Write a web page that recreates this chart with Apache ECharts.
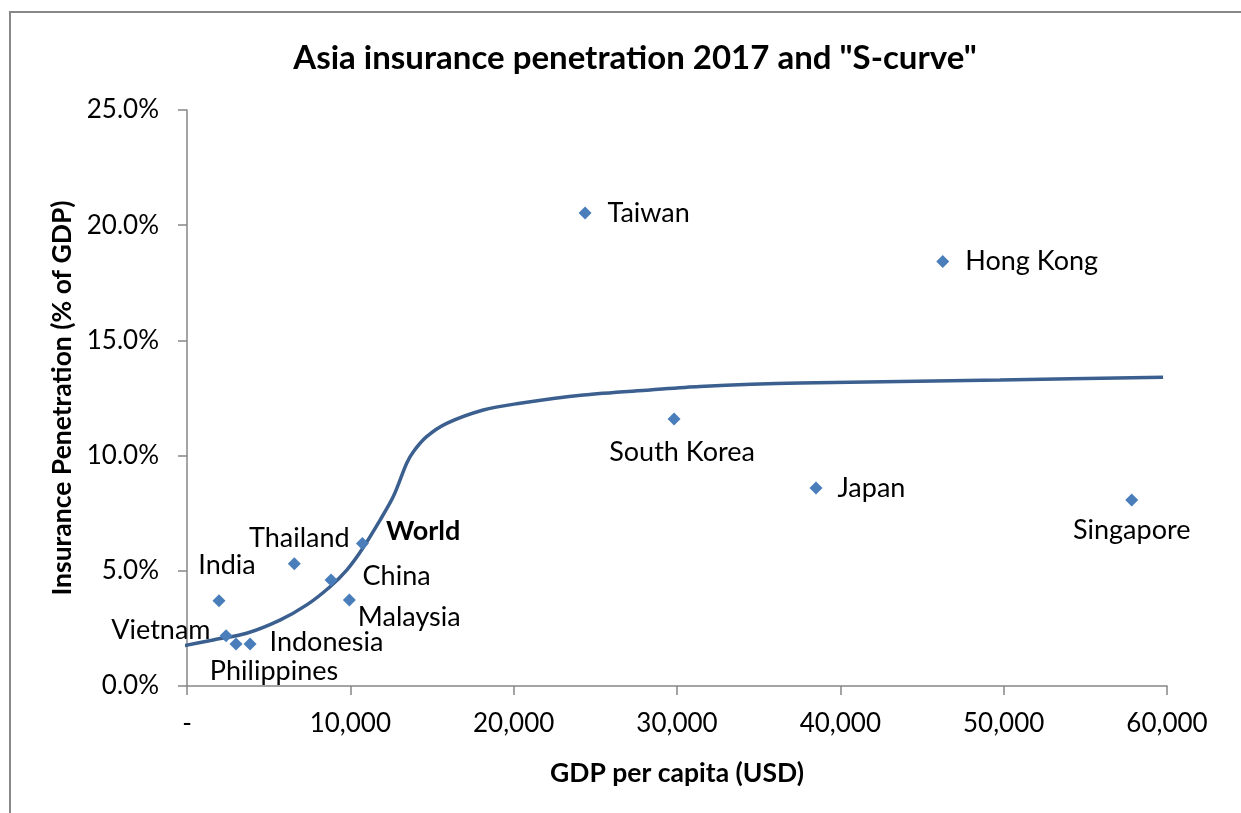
<!DOCTYPE html>
<html>
<head>
<meta charset="utf-8">
<script src="https://cdn.jsdelivr.net/npm/echarts@6/dist/echarts.min.js"></script>
<style>html,body{margin:0;padding:0;background:#fff;}#c{width:1241px;height:813px;}</style>
</head>
<body>
<div id="c"></div>
<script>
const countries = ['Taiwan','Hong Kong','South Korea','Japan','Singapore','World','Thailand','China','Malaysia','India','Vietnam','Philippines','Indonesia'];
const gdpPerCapita = [24370, 46270, 29820, 38510, 57840, 10740, 6570, 8820, 9940, 1960, 2390, 3000, 3860];
const penetration = [20.53, 18.42, 11.59, 8.59, 8.07, 6.18, 5.31, 4.60, 3.73, 3.70, 2.18, 1.82, 1.82];
const curveX = [-245, 1610, 3650, 5690, 7330, 8760, 9780, 10690, 11820, 12630, 13450, 13860, 14670, 15900, 18140, 20180, 24270, 28350, 31400, 37530, 49780, 59760];
const curveY = [1.74, 2.00, 2.29, 2.86, 3.52, 4.31, 5.03, 5.90, 7.20, 8.22, 9.67, 10.17, 10.82, 11.40, 11.98, 12.25, 12.63, 12.85, 13.00, 13.15, 13.28, 13.40];

const FONT = 'Lato, "Open Sans", sans-serif';
const labelStyle = {
  'Taiwan': {position: 'right', offset: [11, 0]},
  'Hong Kong': {position: 'right', offset: [11, 0]},
  'South Korea': {position: 'bottom', offset: [8, 8]},
  'Japan': {position: 'right', offset: [10, 0]},
  'Singapore': {position: 'bottom', offset: [0, 5]},
  'World': {position: 'right', offset: [12, -12], fontWeight: 'bold'},
  'Thailand': {position: 'top', offset: [5, 0]},
  'China': {position: 'right', offset: [20, -4]},
  'Malaysia': {position: 'right', offset: [-3, 17]},
  'India': {position: 'top', offset: [8, -10]},
  'Vietnam': {position: 'left', offset: [-4, -5]},
  'Indonesia': {position: 'right', offset: [8, -2]},
  'Philippines': {position: 'bottom', offset: [38, 2]}
};

const scatterData = countries.map((n, i) => ({
  name: n,
  value: [gdpPerCapita[i], penetration[i]],
  label: Object.assign({show: true, formatter: n, color: '#000', fontSize: 27, fontFamily: FONT}, labelStyle[n])
}));
const curveData = curveX.map((x, i) => [x, curveY[i]]);

const chart = echarts.init(document.getElementById('c'), null, {renderer: 'canvas'});
chart.setOption({
  animation: false,
  backgroundColor: '#fff',
  title: {
    text: 'Asia insurance penetration 2017 and "S-curve"',
    left: 630, top: 37, textAlign: 'center',
    textStyle: {fontFamily: FONT, fontWeight: 'bold', fontSize: 33, color: '#000'}
  },
  graphic: [{
    type: 'rect', shape: {x: 10, y: 12, width: 1300, height: 900},
    style: {fill: 'none', stroke: '#888', lineWidth: 2}, silent: true
  }],
  grid: {left: 187, top: 110, width: 980, height: 576},
  xAxis: {
    type: 'value', min: 0, max: 60000, interval: 10000,
    name: 'GDP per capita (USD)', nameLocation: 'middle', nameGap: 74,
    nameTextStyle: {fontFamily: FONT, fontWeight: 'bold', fontSize: 26.5, color: '#000'},
    axisLine: {show: true, lineStyle: {color: '#868686', width: 1.5}},
    axisTick: {show: true, length: 9, lineStyle: {color: '#868686', width: 1.5}},
    splitLine: {show: false},
    axisLabel: {
      margin: 25, fontFamily: FONT, fontSize: 26, color: '#000',
      formatter: v => v === 0 ? '-' : v.toLocaleString('en-US')
    }
  },
  yAxis: {
    type: 'value', min: 0, max: 25, interval: 5,
    name: 'Insurance Penetration (% of GDP)', nameLocation: 'middle', nameGap: 111, nameRotate: 90,
    nameTextStyle: {fontFamily: FONT, fontWeight: 'bold', fontSize: 26.5, color: '#000'},
    axisLine: {show: true, lineStyle: {color: '#868686', width: 1.5}},
    axisTick: {show: true, length: 9, lineStyle: {color: '#868686', width: 1.5}},
    splitLine: {show: false},
    axisLabel: {margin: 28, fontFamily: FONT, fontSize: 26, color: '#000', formatter: v => v.toFixed(1) + '%'}
  },
  series: [
    {
      type: 'line', data: curveData, smooth: 0.3, showSymbol: false, clip: false,
      lineStyle: {color: '#3b5f8e', width: 3.5}, z: 2
    },
    {
      type: 'scatter', data: scatterData, symbol: 'diamond', symbolSize: 13,
      itemStyle: {color: '#4a7ebb', opacity: 1}, z: 3
    }
  ]
});
</script>
</body>
</html>
